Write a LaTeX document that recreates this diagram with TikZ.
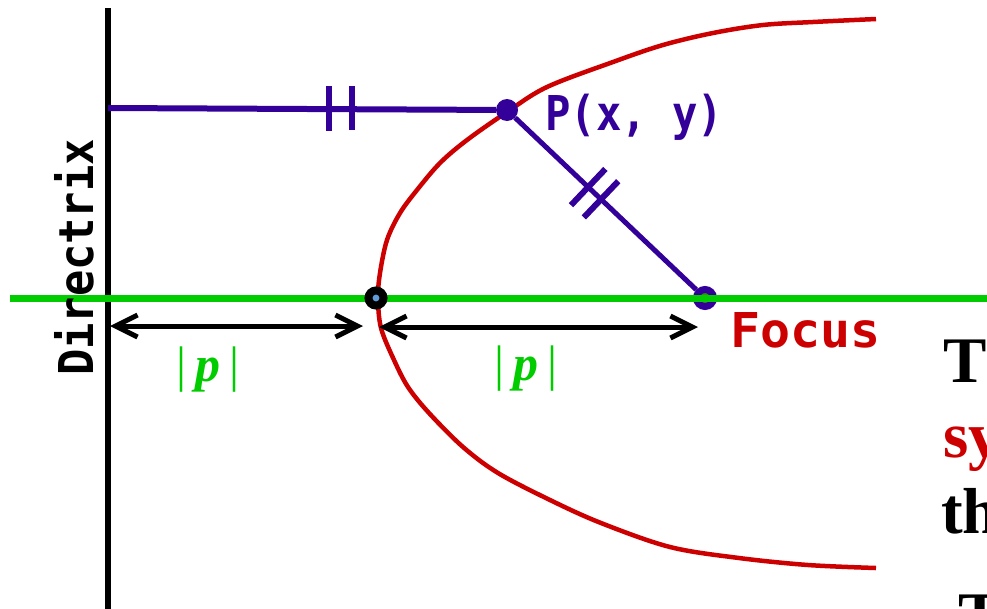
\documentclass[tikz,border=0pt]{standalone}
\usepackage{fontspec}
\setmainfont{Liberation Serif}
\newfontfamily\pixfont{DejaVu Sans Mono}
\usetikzlibrary{arrows.meta,calc}
\definecolor{pur}{RGB}{51,0,153}
\definecolor{parred}{RGB}{204,0,0}
\definecolor{axgreen}{RGB}{0,204,0}
\definecolor{fgreen}{RGB}{51,150,10}
\definecolor{vblue}{RGB}{95,155,215}
\tikzset{
  dirline/.style={line width=6pt, black},
  axisline/.style={line width=7pt, axgreen},
  purline/.style={line width=6pt, pur},
  segline/.style={line width=5pt, pur},
  tickmark/.style={line width=6pt, pur},
  curveline/.style={line width=4.5pt, parred, line join=round},
  dimarrow/.style={line width=5pt, black, line cap=round,
     {Straight Barb[length=22pt,width=22pt]}-{Straight Barb[length=22pt,width=22pt]}},
  vertexdot/.style={circle, draw=black, line width=8pt, fill=vblue, minimum size=15pt, inner sep=0pt},
  focusdot/.style={circle, draw=pur, line width=7pt, fill=fgreen, minimum size=17pt, inner sep=0pt},
  pdot/.style={circle, fill=pur, minimum size=22pt, inner sep=0pt},
  pixtext/.style={inner sep=0pt, anchor=base west, font=\pixfont\bfseries\fontsize{48}{48}\selectfont},
  plabel/.style={inner sep=0pt, anchor=base, text=axgreen, font=\fontsize{50}{50}\selectfont},
  bigtext/.style={inner sep=0pt, anchor=base west, font=\bfseries\fontsize{65}{65}\selectfont}
}
\begin{document}
\begin{tikzpicture}[x=1pt,y=-1pt]
\useasboundingbox (0,0) rectangle (987,608);
\clip (0,0) rectangle (987,608);
% directrix
\coordinate (dtop) at (108,8);
\coordinate (dbot) at (108,612);
\draw[dirline] (dtop) -- (dbot);
% focus
\node[focusdot] (F) at (705,298) {};
% axis
\coordinate (axl) at (10,298);
\coordinate (axr) at (990,298);
\draw[axisline] (axl) -- (axr);
% parabola
\draw[curveline] plot[smooth, tension=0.55] coordinates {
 (876,568) (808,565) (739,558) (670,547) (601,523) (550,500) (498,473)
 (463,447) (429,413) (408,387) (394,360) (381,328) (378,298)
 (380,273) (387,240) (400,213) (417,190) (440,163) (467,140) (507,112)
 (547,87) (613,62) (663,45) (713,33) (763,25) (813,22) (876,19)};
% point P
\node[pdot] (P) at (507,110) {};
\coordinate (hstart) at (108,108);
\draw[purline] (hstart) -- (P);
\coordinate (h1a) at (329,86); \coordinate (h1b) at (329,131);
\coordinate (h2a) at (352,86); \coordinate (h2b) at (352,130);
\draw[tickmark] (h1a) -- (h1b);
\draw[tickmark] (h2a) -- (h2b);
\draw[segline] (P) -- (F);
\coordinate (s1) at ($(P)!0.41!(F)$);
\coordinate (s2) at ($(P)!0.475!(F)$);
\draw[tickmark] ($(s1)!25pt!90:(F)$) -- ($(s1)!25pt!-90:(F)$);
\draw[tickmark] ($(s2)!25pt!90:(F)$) -- ($(s2)!25pt!-90:(F)$);
% vertex
\node[vertexdot] (V) at (376,298) {};
% distance arrows
\coordinate (a1) at (110,326); \coordinate (a2) at (363,326);
\coordinate (a3) at (379,327); \coordinate (a4) at (698,327);
\draw[dimarrow] (a1) -- (a2);
\draw[dimarrow] (a3) -- (a4);
% labels
\node[pixtext, rotate=90] (dirlbl) at (93,376) {\scalebox{0.91}[1]{Directrix}};
\node[pixtext, text=pur] (plbl) at (545,130) {\scalebox{0.88}[1]{P(x, y)}};
\node[pixtext, text=parred] (flbl) at (730,347) {\scalebox{1.04}[1]{Focus}};
\node[plabel] (p1) at (208,381) {|\hspace{9pt}\textbf{\textit{p}}\hspace{9pt}|};
\node[plabel] (p2) at (526,380) {|\hspace{9pt}\textbf{\textit{p}}\hspace{9pt}|};
\node[bigtext] (t1) at (943,382) {T};
\node[bigtext, text=parred] (t2) at (943,457) {sy};
\node[bigtext] (t3) at (941,533) {th};
\node[bigtext] (t4) at (958,637) {T};
\end{tikzpicture}
\end{document}
